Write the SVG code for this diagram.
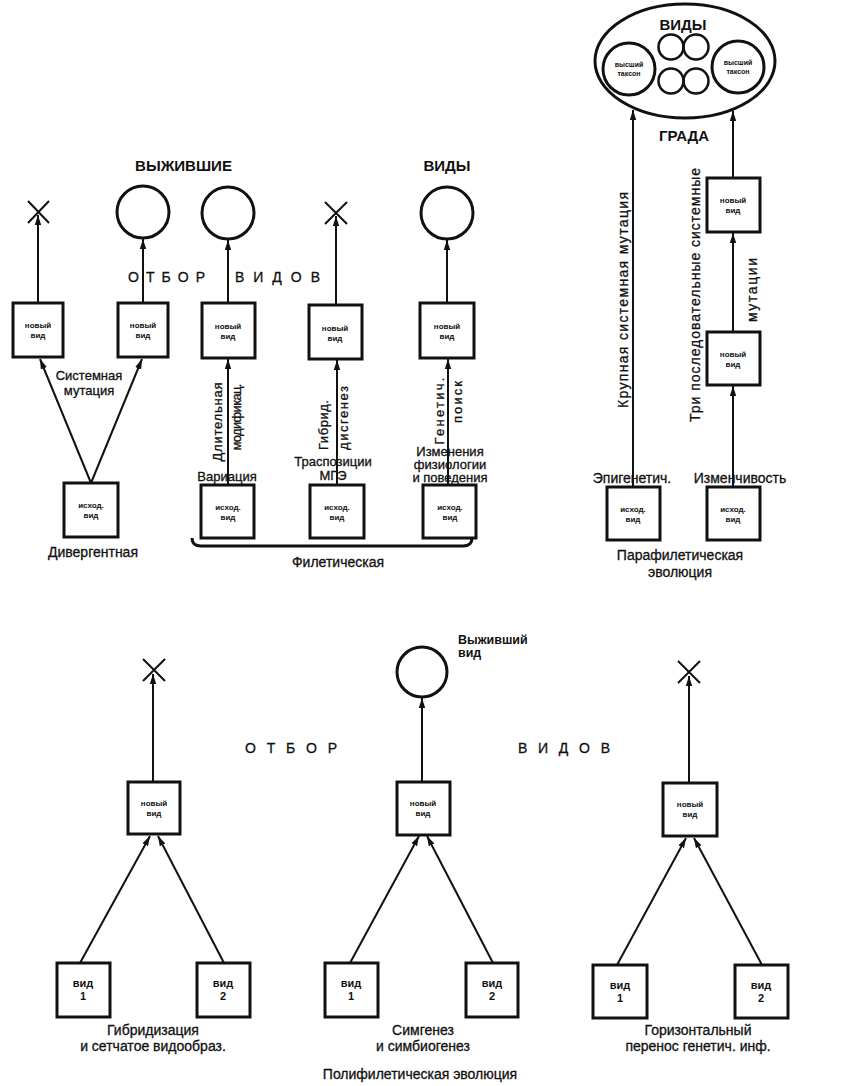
<svg xmlns="http://www.w3.org/2000/svg" width="847" height="1086" viewBox="0 0 847 1086">
<style>
text{font-family:"Liberation Sans",Arial,sans-serif;fill:#111}
.box{fill:#fff;stroke:#111;stroke-width:3}
.circ{fill:none;stroke:#111;stroke-width:3}
.sc{fill:none;stroke:#111;stroke-width:2.5}
.ln{stroke:#111;stroke-width:2;fill:none;marker-end:url(#ah)}
.x{stroke:#111;stroke-width:2;fill:none}
.bl{font-size:8px;font-weight:bold;text-anchor:middle}
.vl{font-size:11px;font-weight:bold;text-anchor:middle}
.lb{font-size:14px;text-anchor:middle;stroke:#111;stroke-width:0.3}
.sm{font-size:13px;text-anchor:middle;stroke:#111;stroke-width:0.3}
.hd{font-size:15px;font-weight:bold}
.sp{font-size:14px;stroke:#111;stroke-width:0.3}
.tx{font-size:7px;font-weight:bold;text-anchor:middle}
</style>
<defs>
<marker id="ah" markerUnits="userSpaceOnUse" markerWidth="10" markerHeight="8" refX="10" refY="4" orient="auto">
<path d="M0,0.8 L10,4 L0,7.2 z" fill="#111"/>
</marker>
</defs>
<rect width="847" height="1086" fill="#fff"/>

<g id="connectors">
<line class="ln" x1="38" y1="303" x2="38" y2="215"/>
<line class="ln" x1="143" y1="303" x2="143" y2="239"/>
<line class="ln" x1="91" y1="483" x2="40" y2="359"/>
<line class="ln" x1="91" y1="483" x2="142" y2="359"/>
<line class="ln" x1="228" y1="303" x2="228" y2="240"/>
<line class="ln" x1="228" y1="485" x2="228" y2="359"/>
<line class="ln" x1="336" y1="305" x2="336" y2="216"/>
<line class="ln" x1="337" y1="485" x2="337" y2="360"/>
<line class="ln" x1="447" y1="303" x2="447" y2="240"/>
<line class="ln" x1="448" y1="485" x2="448" y2="359"/>
<line class="ln" x1="633" y1="487" x2="633" y2="110"/>
<line class="ln" x1="733" y1="178" x2="733" y2="111"/>
<line class="ln" x1="733" y1="332" x2="733" y2="233"/>
<line class="ln" x1="733" y1="487" x2="733" y2="386"/>
<line class="ln" x1="153" y1="782" x2="153" y2="674"/>
<line class="ln" x1="80" y1="963" x2="150" y2="836"/>
<line class="ln" x1="224" y1="963" x2="158" y2="836"/>
<line class="ln" x1="422" y1="782" x2="422" y2="698"/>
<line class="ln" x1="350" y1="963" x2="419" y2="836"/>
<line class="ln" x1="493" y1="963" x2="427" y2="836"/>
<line class="ln" x1="689" y1="783" x2="689" y2="676"/>
<line class="ln" x1="617" y1="965" x2="686" y2="838"/>
<line class="ln" x1="762" y1="965" x2="694" y2="838"/>
</g>

<g id="deaths">
<path class="x" d="M28,201 L49,223 M49,201 L28,223"/>
<path class="x" d="M325,202 L347,224 M347,202 L325,224"/>
<path class="x" d="M143,659 L165,681 M165,659 L143,681"/>
<path class="x" d="M678,661 L700,683 M700,661 L678,683"/>
</g>

<g id="survivors">
<circle class="circ" cx="143" cy="212" r="26"/>
<circle class="circ" cx="228" cy="213" r="26"/>
<circle class="circ" cx="447" cy="213" r="26"/>
<circle class="circ" cx="422" cy="672" r="25"/>
</g>

<g id="new1"><rect class="box" x="13" y="303" width="50" height="54"/><text class="bl" x="38" y="328">новый</text><text class="bl" x="38" y="338">вид</text></g>
<g id="new2"><rect class="box" x="118" y="303" width="50" height="54"/><text class="bl" x="143" y="328">новый</text><text class="bl" x="143" y="338">вид</text></g>
<g id="new3"><rect class="box" x="202" y="303" width="53" height="55"/><text class="bl" x="228" y="329">новый</text><text class="bl" x="228" y="339">вид</text></g>
<g id="new4"><rect class="box" x="309" y="305" width="53" height="54"/><text class="bl" x="335" y="331">новый</text><text class="bl" x="335" y="341">вид</text></g>
<g id="new5"><rect class="box" x="420" y="303" width="54" height="55"/><text class="bl" x="447" y="329">новый</text><text class="bl" x="447" y="339">вид</text></g>

<g id="src1"><rect class="box" x="64" y="483" width="54" height="54"/><text class="bl" x="91" y="508">исход.</text><text class="bl" x="91" y="518">вид</text></g>
<g id="src3"><rect class="box" x="201" y="485" width="53" height="53"/><text class="bl" x="228" y="510">исход.</text><text class="bl" x="228" y="520">вид</text></g>
<g id="src4"><rect class="box" x="310" y="485" width="54" height="53"/><text class="bl" x="337" y="510">исход.</text><text class="bl" x="337" y="520">вид</text></g>
<g id="src5"><rect class="box" x="423" y="485" width="53" height="53"/><text class="bl" x="450" y="510">исход.</text><text class="bl" x="450" y="520">вид</text></g>

<g id="grade">
<ellipse class="circ" cx="685" cy="61" rx="90" ry="57"/>
<text class="hd" x="683" y="30" text-anchor="middle" font-size="14">ВИДЫ</text>
<circle class="sc" cx="671" cy="47" r="12.5"/>
<circle class="sc" cx="696" cy="47" r="12.5"/>
<circle class="sc" cx="671" cy="81" r="12.5"/>
<circle class="sc" cx="696" cy="81" r="12.5"/>
<circle class="circ" cx="629" cy="69" r="26"/>
<text class="tx" x="629" y="67">высший</text><text class="tx" x="629" y="76">таксон</text>
<circle class="circ" cx="738" cy="67" r="26"/>
<text class="tx" x="738" y="65">высший</text><text class="tx" x="738" y="74">таксон</text>
</g>

<g id="pnew1"><rect class="box" x="707" y="178" width="53" height="54"/><text class="bl" x="733" y="203">новый</text><text class="bl" x="733" y="213">вид</text></g>
<g id="pnew2"><rect class="box" x="707" y="332" width="53" height="53"/><text class="bl" x="733" y="357">новый</text><text class="bl" x="733" y="367">вид</text></g>
<g id="psrc1"><rect class="box" x="607" y="487" width="53" height="53"/><text class="bl" x="633" y="512">исход.</text><text class="bl" x="633" y="522">вид</text></g>
<g id="psrc2"><rect class="box" x="707" y="487" width="53" height="53"/><text class="bl" x="733" y="512">исход.</text><text class="bl" x="733" y="522">вид</text></g>

<g id="bnew1"><rect class="box" x="128" y="782" width="52" height="52"/><text class="bl" x="154" y="806">новый</text><text class="bl" x="154" y="816">вид</text></g>
<g id="bnew2"><rect class="box" x="397" y="782" width="53" height="53"/><text class="bl" x="423" y="806">новый</text><text class="bl" x="423" y="816">вид</text></g>
<g id="bnew3"><rect class="box" x="663" y="783" width="54" height="53"/><text class="bl" x="690" y="807">новый</text><text class="bl" x="690" y="817">вид</text></g>

<g id="sp1a"><rect class="box" x="57" y="963" width="53" height="54"/><text class="vl" x="83" y="987">вид</text><text class="vl" x="83" y="1000">1</text></g>
<g id="sp1b"><rect class="box" x="197" y="963" width="53" height="54"/><text class="vl" x="223" y="987">вид</text><text class="vl" x="223" y="1000">2</text></g>
<g id="sp2a"><rect class="box" x="325" y="963" width="53" height="54"/><text class="vl" x="351" y="987">вид</text><text class="vl" x="351" y="1000">1</text></g>
<g id="sp2b"><rect class="box" x="466" y="963" width="52" height="54"/><text class="vl" x="492" y="987">вид</text><text class="vl" x="492" y="1000">2</text></g>
<g id="sp3a"><rect class="box" x="593" y="965" width="54" height="53"/><text class="vl" x="620" y="989">вид</text><text class="vl" x="620" y="1002">1</text></g>
<g id="sp3b"><rect class="box" x="735" y="965" width="53" height="53"/><text class="vl" x="761" y="989">вид</text><text class="vl" x="761" y="1002">2</text></g>

<g id="brace">
<path d="M192,538 Q192,546 201,546 L463,546 Q472,546 472,538" fill="none" stroke="#111" stroke-width="3"/>
</g>

<g id="labels">
<text class="hd" x="135" y="171" textLength="97" lengthAdjust="spacingAndGlyphs">ВЫЖИВШИЕ</text>
<text class="hd" x="447" y="171" text-anchor="middle">ВИДЫ</text>
<text class="sp" x="128" y="282" textLength="77">ОТБОР</text>
<text class="sp" x="235" y="282" textLength="85">ВИДОВ</text>
<text class="sm" x="89" y="380">Системная</text>
<text class="sm" x="89" y="395">мутация</text>
<text class="lb" x="93" y="557">Дивергентная</text>
<text class="sm" x="227" y="481">Вариация</text>
<text class="sm" x="333" y="466" font-size="12.5">Траспозиции</text>
<text class="sm" x="333" y="480" font-size="12.5">МГЭ</text>
<text class="sm" x="450" y="456" font-size="11">Изменения</text>
<text class="sm" x="450" y="469" font-size="11">физиологии</text>
<text class="sm" x="450" y="482" font-size="11">и поведения</text>
<text class="lb" x="338" y="567">Филетическая</text>
<text class="sm" transform="translate(222,422) rotate(-90)" textLength="79">Длительная</text>
<text class="sm" transform="translate(241,417) rotate(-90)" textLength="67">модификац.</text>
<text class="sm" transform="translate(328,425) rotate(-90)" textLength="50">Гибрид.</text>
<text class="sm" transform="translate(348,418) rotate(-90)" textLength="64">дисгенез</text>
<text class="sm" transform="translate(444,411) rotate(-90)" textLength="67">Генетич.</text>
<text class="sm" transform="translate(462,402) rotate(-90)" textLength="42">поиск</text>
<text class="hd" x="684" y="141" text-anchor="middle" font-size="14">ГРАДА</text>
<text class="lb" transform="translate(628,300) rotate(-90)" font-size="15" textLength="216">Крупная системная мутация</text>
<text class="lb" transform="translate(700,295) rotate(-90)" font-size="15" textLength="254">Три последовательные системные</text>
<text class="lb" transform="translate(757,290) rotate(-90)" font-size="15" textLength="64">мутации</text>
<text class="lb" x="632" y="483" text-anchor="end">Эпигенетич.</text>
<text class="lb" x="740" y="483" text-anchor="start">Изменчивость</text>
<text class="lb" x="680" y="560">Парафилетическая</text>
<text class="lb" x="680" y="577">эволюция</text>
<text x="458" y="644" font-size="12.5" font-weight="bold">Выживший</text>
<text x="458" y="657" font-size="12.5" font-weight="bold">вид</text>
<text class="sp" x="245" y="753" textLength="92">ОТБОР</text>
<text class="sp" x="518" y="753" textLength="92">ВИДОВ</text>
<text class="lb" x="153" y="1035">Гибридизация</text>
<text class="lb" x="153" y="1051">и сетчатое видообраз.</text>
<text class="lb" x="423" y="1035">Симгенез</text>
<text class="lb" x="423" y="1051">и симбиогенез</text>
<text class="lb" x="698" y="1035">Горизонтальный</text>
<text class="lb" x="698" y="1051">перенос генетич. инф.</text>
<text class="lb" x="420" y="1079">Полифилетическая эволюция</text>
</g>
</svg>
